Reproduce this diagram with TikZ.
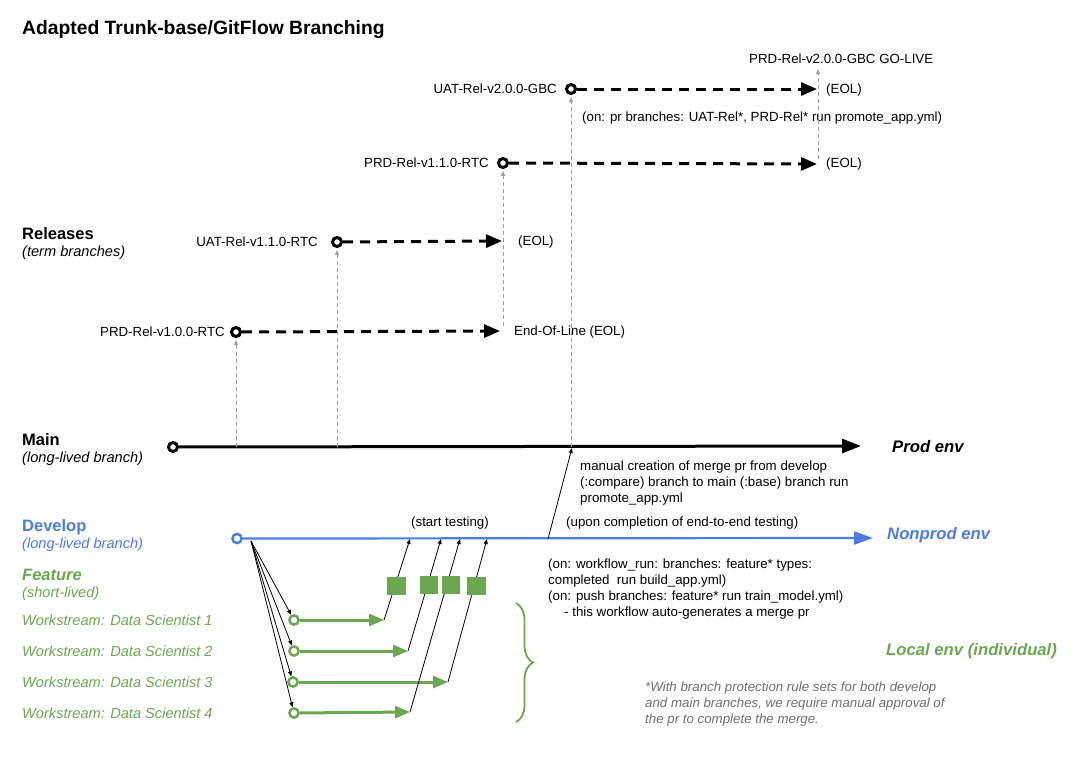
\documentclass[tikz,border=0pt]{standalone}
\usepackage{fontspec}
\setmainfont{Liberation Sans}
\usetikzlibrary{arrows.meta,decorations.pathreplacing}
\definecolor{devblue}{HTML}{4A7DE6}
\definecolor{featgreen}{HTML}{6AA84F}
\definecolor{notegray}{HTML}{707070}
\definecolor{linkgray}{HTML}{9E9E9E}
\begin{document}
\begin{tikzpicture}[x=1pt,y=-1pt,
  txt/.style={inner sep=0pt, anchor=west, align=left, font=\fontsize{13.3}{16}\selectfont},
  titletxt/.style={txt, font=\fontsize{19.3}{22}\selectfont\bfseries},
  headtxt/.style={txt, font=\fontsize{16.5}{19}\selectfont\bfseries},
  subtxt/.style={txt, font=\fontsize{14.6}{17}\selectfont\itshape},
  envtxt/.style={txt, font=\fontsize{16.7}{19}\selectfont\bfseries\itshape},
  notetxt/.style={txt, text=notegray, font=\fontsize{13.3}{16}\selectfont\itshape},
  commit/.style={circle, draw=black, fill=white, line width=3pt, minimum size=9pt, inner sep=0pt},
  devcommit/.style={commit, draw=devblue, line width=2.5pt, minimum size=9.2pt},
  featcommit/.style={commit, draw=featgreen, line width=2.5pt, minimum size=9.2pt},
  relarrow/.style={line width=3pt, dash pattern=on 10pt off 7pt, -{Triangle[length=16pt,width=13pt]}},
  trunk/.style={line width=3pt, -{Triangle[length=19pt,width=14pt]}},
  devline/.style={devblue, line width=2.2pt, -{Triangle[length=19pt,width=13pt]}},
  featarrow/.style={featgreen, line width=3pt, -{Triangle[length=15pt,width=12pt]}},
  link/.style={linkgray, line width=0.8pt, dash pattern=on 4pt off 3pt, -{Triangle[length=5pt,width=4pt]}, shorten >=2pt},
  merge/.style={black, line width=0.8pt, -{Triangle[length=5pt,width=4pt]}},
  squarebox/.style={rectangle, fill=featgreen, minimum size=18.5pt, inner sep=0pt}
]
\fill[white] (0,0) rectangle (1071,756);
\path[use as bounding box] (0,0) rectangle (1071,756);

% ---------- left labels ----------
\node[titletxt] (title) at (22,30) {Adapted Trunk-base/GitFlow Branching};
\node[headtxt] (relhead) at (22,234) {Releases};
\node[subtxt] (relsub) at (22,253) {(term branches)};
\node[headtxt] (mainhead) at (22,440) {Main};
\node[subtxt] (mainsub) at (22,459) {(long-lived branch)};
\node[headtxt, text=devblue] (devhead) at (22,527) {Develop};
\node[subtxt, text=devblue] (devsub) at (22,545) {(long-lived branch)};
\node[headtxt, text=featgreen, font=\fontsize{16.5}{19}\selectfont\bfseries\itshape] (feathead) at (22,575) {Feature};
\node[subtxt, text=featgreen] (featsub) at (22,594) {(short-lived)};
\node[subtxt, text=featgreen] (w1l) at (22,620) {Workstream: Data Scientist 1};
\node[subtxt, text=featgreen] (w2l) at (22,651) {Workstream: Data Scientist 2};
\node[subtxt, text=featgreen] (w3l) at (22,682) {Workstream: Data Scientist 3};
\node[subtxt, text=featgreen] (w4l) at (22,713) {Workstream: Data Scientist 4};

% ---------- main branch ----------
\node[commit] (m0) at (173,447) {};
\coordinate (mend) at (861,446);
\draw[trunk] (m0) -- (mend);
\node[envtxt] (prod) at (892,447) {Prod env};

% ---------- release commits ----------
\node[commit] (r1) at (236,332) {};
\node[commit] (r2) at (337,242) {};
\node[commit] (r3) at (503,163) {};
\node[commit] (r4) at (571,89) {};
\node[txt, anchor=east] (r1l) at (225,332) {PRD-Rel-v1.0.0-RTC};
\node[txt, anchor=east] (r2l) at (318,242) {UAT-Rel-v1.1.0-RTC};
\node[txt, anchor=east] (r3l) at (489,163) {PRD-Rel-v1.1.0-RTC};
\node[txt, anchor=east] (r4l) at (557,89) {UAT-Rel-v2.0.0-GBC};

\coordinate (e1) at (500,331);
\coordinate (e2) at (502,241);
\coordinate (e3) at (817,164);
\coordinate (e4) at (817,89);
\draw[relarrow] (r1) -- (e1);
\draw[relarrow] (r2) -- (e2);
\draw[relarrow] (r3) -- (e3);
\draw[relarrow] (r4) -- (e4);
\node[txt] (e1l) at (514,332) {End-Of-Line (EOL)};
\node[txt] (e2l) at (518,242) {(EOL)};
\node[txt] (e3l) at (826,164) {(EOL)};
\node[txt] (e4l) at (826,90) {(EOL)};
\node[txt] (golive) at (749,59) {PRD-Rel-v2.0.0-GBC GO-LIVE};
\node[txt] (prnote) at (582,118) {(on: pr branches: UAT-Rel*, PRD-Rel* run promote\_app.yml)};

% ---------- links from main / EOL ----------
\coordinate (mr1) at (236,447);
\coordinate (mr2) at (337,447);
\coordinate (mr4) at (571,447);
\coordinate (eol1) at (503,326);
\coordinate (eol3) at (818,159);
\draw[link] (mr1) -- (r1);
\draw[link] (mr2) -- (r2);
\draw[link] (mr4) -- (r4);
\draw[link] (eol1) -- (r3);
\draw[link, shorten >=5pt] (eol3) -- (eol3 |- golive.south);

% ---------- develop branch ----------
\node[devcommit] (d0) at (237,538.5) {};
\coordinate (dend) at (873,538);
\draw[devline] (d0) -- (dend);
\node[envtxt, text=devblue] (nonprod) at (887,535) {Nonprod env};

\coordinate (d2m) at (548,539);
\coordinate (m2) at (572,448);
\draw[merge] (d2m) -- (m2);
\node[txt] (starttest) at (411,523) {(start testing)};
\node[txt] (upon) at (566,523) {(upon completion of end-to-end testing)};
\node[txt] (manual) at (580,483) {manual creation of merge pr from develop\\(:compare) branch to main (:base) branch run\\promote\_app.yml};
\node[txt] (workflow) at (548,589) {(on: workflow\_run: branches: feature* types:\\completed\ \ run build\_app.yml)\\(on: push branches: feature* run train\_model.yml)\\\hspace*{16pt}- this workflow auto-generates a merge pr};

% ---------- feature branches ----------
\node[featcommit] (w1c) at (294,620) {};
\node[featcommit] (w2c) at (294,651) {};
\node[featcommit] (w3c) at (293,682) {};
\node[featcommit] (w4c) at (294,713) {};
\coordinate (fan) at (251,541);
\draw[merge] (fan) -- (w1c);
\draw[merge] (fan) -- (w2c);
\draw[merge] (fan) -- (w3c);
\draw[merge] (fan) -- (w4c);

\coordinate (w1t) at (384,620);
\coordinate (w2t) at (408,651);
\coordinate (w3t) at (448,682);
\coordinate (w4t) at (410,712);
\draw[featarrow] (w1c) -- (w1t);
\draw[featarrow] (w2c) -- (w2t);
\draw[featarrow] (w3c) -- (w3t);
\draw[featarrow] (w4c) -- (w4t);

\coordinate (dm1) at (410,539);
\coordinate (dm2) at (441,539);
\coordinate (dm3) at (487,539);
\coordinate (dm4) at (460,539);
\draw[merge] (w1t) -- (dm1);
\draw[merge] (w2t) -- (dm2);
\draw[merge] (w3t) -- (dm3);
\draw[merge] (w4t) -- (dm4);

\node[squarebox] (s1) at (396.5,586) {};
\node[squarebox] (s2) at (429,585) {};
\node[squarebox] (s3) at (451,585) {};
\node[squarebox] (s4) at (476.5,586) {};

\draw[featgreen, line width=1.8pt, decorate, decoration={brace, amplitude=17pt}] (516,603) -- (516,722);
\node[envtxt, text=featgreen] (local) at (886,651) {Local env (individual)};
\node[notetxt] (note) at (645,704) {*With branch protection rule sets for both develop\\and main branches, we require manual approval of\\the pr to complete the merge.};
\end{tikzpicture}
\end{document}
